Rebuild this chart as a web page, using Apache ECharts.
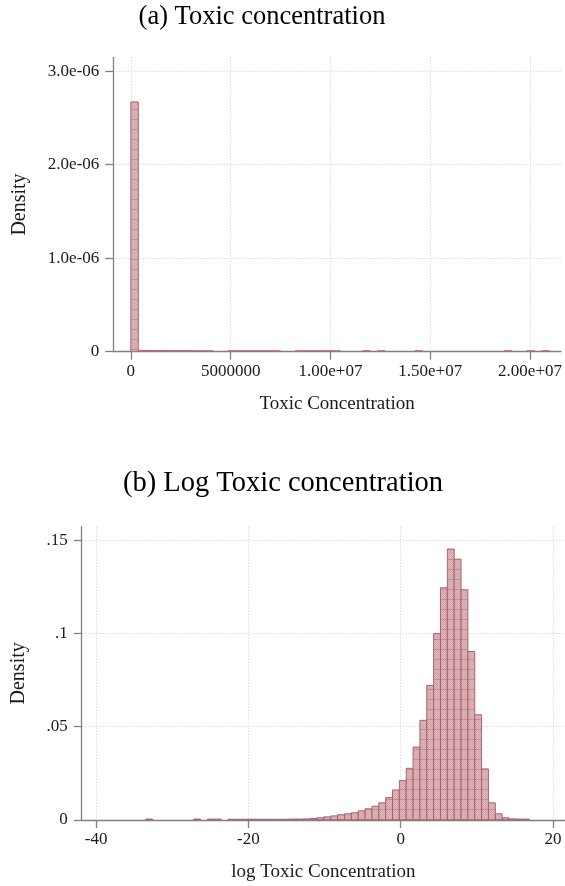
<!DOCTYPE html>
<html>
<head>
<meta charset="utf-8">
<script src="https://cdn.jsdelivr.net/npm/echarts@6/dist/echarts.min.js"></script>
<style>html,body{margin:0;padding:0;background:#fff;}#c{width:565px;height:886px;}</style>
</head>
<body>
<div id="c"></div>
<script>
// ---------- Data: panel (a) Toxic concentration ----------
var topBinWidth = 374400;
var topBinStarts = [0, 374400, 748800, 1123200, 1497600, 1872000, 2246400, 2620800, 2995200, 3369600, 3744000,
  4867200, 5241600, 5616000, 5990400, 6364800, 6739200, 7113600,
  8236800, 8611200, 8985600, 9360000, 9734400, 10108800,
  11606400, 12355200, 14227200, 18720000, 19843200, 20592000];
var topDensities = [2.672e-6, 1.4e-8, 1.3e-8, 1.2e-8, 1.2e-8, 1.1e-8, 1.1e-8, 1.1e-8, 1.0e-8, 1.0e-8, 1.0e-8,
  1.0e-8, 1.0e-8, 1.0e-8, 1.0e-8, 1.0e-8, 1.0e-8, 1.0e-8,
  1.0e-8, 1.0e-8, 1.0e-8, 1.0e-8, 1.0e-8, 1.0e-8,
  1.0e-8, 1.0e-8, 1.0e-8, 1.0e-8, 1.0e-8, 1.0e-8];
var topXTicks = [0, 5000000, 10000000, 15000000, 20000000];
var topXTickLabels = ['0', '5000000', '1.00e+07', '1.50e+07', '2.00e+07'];
var topYTicks = [0, 1e-6, 2e-6, 3e-6];
var topYTickLabels = ['0', '1.0e-06', '2.0e-06', '3.0e-06'];

// ---------- Data: panel (b) Log Toxic concentration ----------
var botBinWidth = 0.9;
var botBinStarts = [-33.48, -27.18, -25.38, -24.48,
  -22.68, -21.78, -20.88, -19.98, -19.08, -18.18, -17.28, -16.38, -15.48, -14.58, -13.68,
  -12.78, -11.88, -10.98, -10.08, -9.18, -8.28, -7.38, -6.48, -5.58, -4.68, -3.78, -2.88, -1.98, -1.08,
  -0.18, 0.72, 1.62, 2.52, 3.42, 4.32, 5.22, 6.12, 7.02, 7.92, 8.82, 9.72, 10.62, 11.52, 12.42, 13.32,
  14.22, 15.12, 16.02];
var botDensities = [0.0005, 0.0005, 0.0005, 0.0005,
  0.0004, 0.0004, 0.0004, 0.0004, 0.0004, 0.0004, 0.0004, 0.0004, 0.0004, 0.0005, 0.0005,
  0.0006, 0.0008, 0.0012, 0.0017, 0.0022, 0.0028, 0.0033, 0.0039, 0.0049, 0.0060, 0.0074, 0.0092, 0.0120, 0.0161,
  0.0211, 0.0277, 0.0391, 0.0534, 0.0721, 0.0999, 0.1245, 0.1452, 0.1398, 0.1234, 0.0903, 0.0564, 0.0274, 0.0092, 0.0033, 0.0012,
  0.0006, 0.0005, 0.0005];
var botXTicks = [-40, -20, 0, 20];
var botXTickLabels = ['-40', '-20', '0', '20'];
var botYTicks = [0, 0.05, 0.1, 0.15];
var botYTickLabels = ['0', '.05', '.1', '.15'];

var titles = ['(a) Toxic concentration', '(b) Log Toxic concentration'];
var xNames = ['Toxic Concentration', 'log Toxic Concentration'];
var yName = 'Density';

// ---------- Styling ----------
var FONT = "'Liberation Serif', 'DejaVu Serif', serif";
var AXIS_COLOR = '#808080';
var TEXT_COLOR = '#1a1a1a';

function makePattern() {
  var c = document.createElement('canvas');
  c.width = 4; c.height = 10;
  var g = c.getContext('2d');
  g.fillStyle = '#ddb5b9';
  g.fillRect(0, 0, 4, 10);
  g.fillStyle = '#d0a0a6';
  for (var y = 0; y < 10; y++) {
    for (var x = 0; x < 4; x++) {
      if ((x + y) % 2 === 0) g.fillRect(x, y, 1, 1);
    }
  }
  g.fillStyle = 'rgba(176,100,112,0.5)';
  g.fillRect(0, 9, 4, 1);
  return c;
}
var pattern = { image: makePattern(), repeat: 'repeat' };

function buildData(starts, width, dens) {
  return starts.map(function (s, i) { return [s, s + width, dens[i]]; });
}

function histItem(params, api) {
  var p0 = api.coord([api.value(0), api.value(2)]);
  var p1 = api.coord([api.value(1), 0]);
  return {
    type: 'rect',
    shape: { x: p0[0], y: p0[1], width: p1[0] - p0[0], height: p1[1] - p0[1] },
    style: { fill: pattern, stroke: '#a85e6a', lineWidth: 1, opacity: 0.95 }
  };
}

function lookup(ticks, labels) {
  return function (v) {
    for (var i = 0; i < ticks.length; i++) {
      if (Math.abs(ticks[i] - v) <= Math.abs(ticks[ticks.length - 1]) * 1e-9 + 1e-15) return labels[i];
    }
    return '';
  };
}

function xAxis(gridIndex, min, max, ticks, labels, name, nameGap) {
  return {
    type: 'value', gridIndex: gridIndex, min: min, max: max,
    name: name, nameLocation: 'middle', nameGap: nameGap,
    nameTextStyle: { fontFamily: FONT, fontSize: 19, color: TEXT_COLOR },
    axisLine: { show: true, onZero: false, lineStyle: { color: AXIS_COLOR, width: 1.3 } },
    axisTick: { show: true, length: 8, inside: false, customValues: ticks, lineStyle: { color: AXIS_COLOR, width: 1.3 } },
    axisLabel: { customValues: ticks, formatter: lookup(ticks, labels), margin: 11, fontFamily: FONT, fontSize: 17, color: TEXT_COLOR, hideOverlap: false },
    splitLine: { show: true, lineStyle: { color: '#cfcfcf', type: [1, 2], width: 1 } }
  };
}
function yAxis(gridIndex, max, ticks, labels, nameGap) {
  return {
    type: 'value', gridIndex: gridIndex, min: 0, max: max,
    name: yName, nameLocation: 'middle', nameGap: nameGap, nameRotate: 90,
    nameTextStyle: { fontFamily: FONT, fontSize: 20, color: TEXT_COLOR },
    axisLine: { show: true, onZero: false, lineStyle: { color: AXIS_COLOR, width: 1.3 } },
    axisTick: { show: true, length: 8, inside: false, customValues: ticks, lineStyle: { color: AXIS_COLOR, width: 1.3 } },
    axisLabel: { customValues: ticks, formatter: lookup(ticks, labels), margin: 14, fontFamily: FONT, fontSize: 17, color: TEXT_COLOR },
    splitLine: { show: true, lineStyle: { color: '#cfcfcf', type: [1, 2], width: 1 } }
  };
}

var chart = echarts.init(document.getElementById('c'), null, { renderer: 'canvas' });
chart.setOption({
  backgroundColor: '#ffffff',
  animation: false,
  graphic: [
    { type: 'text', x: 262, y: 17, style: { text: titles[0], font: '26.5px ' + FONT, fill: '#000', textAlign: 'center', textVerticalAlign: 'middle' } },
    { type: 'text', x: 283, y: 484, style: { text: titles[1], font: '28.5px ' + FONT, fill: '#000', textAlign: 'center', textVerticalAlign: 'middle' } }
  ],
  grid: [
    { left: 113.3, top: 57.3, right: 0, bottom: 886 - 351.7 },
    { left: 81.7, top: 526.7, right: 0, bottom: 886 - 820 }
  ],
  xAxis: [
    xAxis(0, -878850, 21549000, topXTicks, topXTickLabels, xNames[0], 43),
    xAxis(1, -41.89, 21.57, botXTicks, botXTickLabels, xNames[1], 43)
  ],
  yAxis: [
    yAxis(0, 3.149e-6, topYTicks, topYTickLabels, 84),
    yAxis(1, 0.1572, botYTicks, botYTickLabels, 53)
  ],
  series: [
    { type: 'custom', xAxisIndex: 0, yAxisIndex: 0, renderItem: histItem, encode: { x: [0, 1], y: 2 },
      data: buildData(topBinStarts, topBinWidth, topDensities), clip: true },
    { type: 'custom', xAxisIndex: 1, yAxisIndex: 1, renderItem: histItem, encode: { x: [0, 1], y: 2 },
      data: buildData(botBinStarts, botBinWidth, botDensities), clip: true }
  ]
});
</script>
</body>
</html>
